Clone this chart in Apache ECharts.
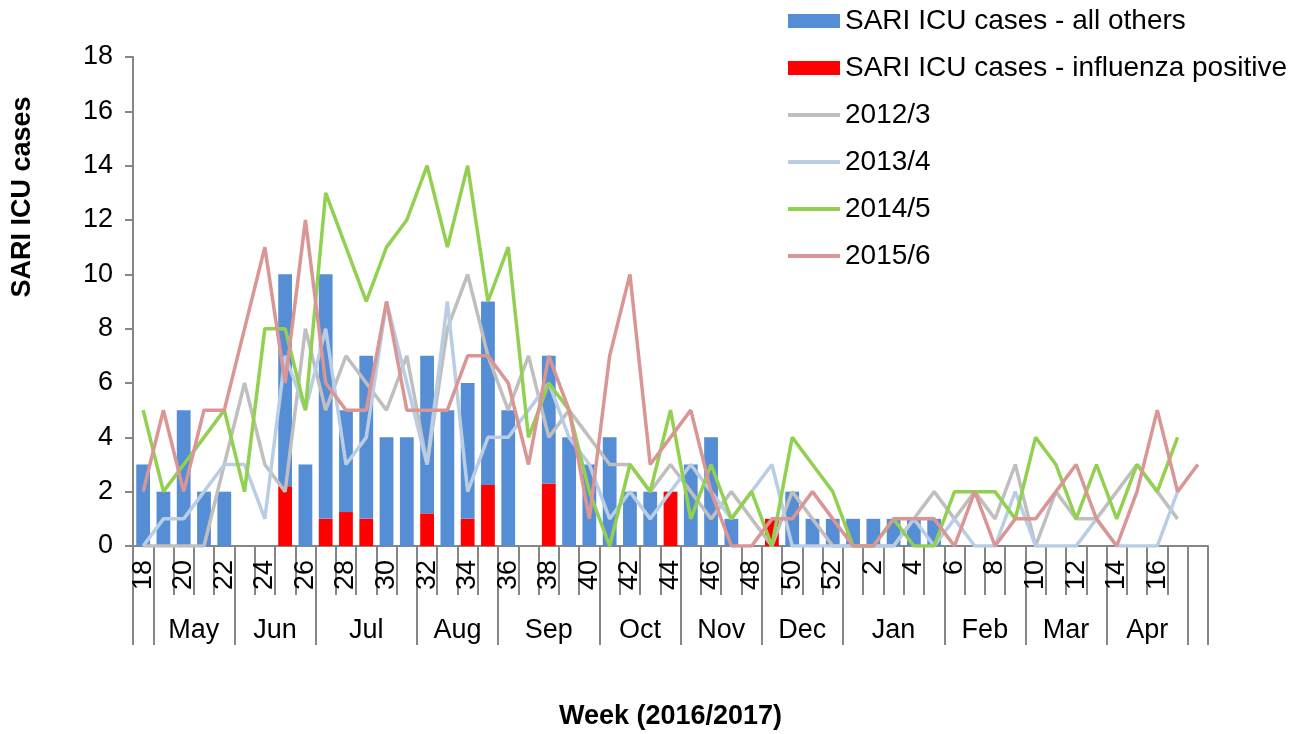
<!DOCTYPE html>
<html>
<head>
<meta charset="utf-8">
<title>SARI ICU cases</title>
<script src="https://cdn.jsdelivr.net/npm/echarts@6/dist/echarts.min.js"></script>
<style>
html, body { margin: 0; padding: 0; background: #fff; }
#chart { width: 1304px; height: 734px; }
</style>
</head>
<body>
<div id="chart"></div>
<script>
// week numbers, 2016 week 18 .. 2017 week 17, plus one empty slot at the end
const weeks = ['18','19','20','21','22','23','24','25','26','27','28','29','30','31','32','33','34','35',
  '36','37','38','39','40','41','42','43','44','45','46','47','48','49','50','51','52',
  '1','2','3','4','5','6','7','8','9','10','11','12','13','14','15','16','17',''];

const months = ['May','Jun','Jul','Aug','Sep','Oct','Nov','Dec','Jan','Feb','Mar','Apr'];
const monthWeekCounts = [4,4,5,4,5,4,4,4,5,4,4,4];
const firstMonthStart = 1;

const allOthers = [3,2,5,2,2,0,0,7.8,3,9,3.75,6,4,4,5.8,5,5,6.75,5,0,4.7,4,3,4,2,2,0,3,4,1,0,0,2,1,1,1,1,1,1,1,
  0,0,0,0,0,0,0,0,0,0,0,0,0];
const influenzaPositive = [0,0,0,0,0,0,0,2.2,0,1,1.25,1,0,0,1.2,0,1,2.25,0,0,2.3,0,0,0,0,0,2,0,0,0,0,1,
  0,0,0,0,0,0,0,0,0,0,0,0,0,0,0,0,0,0,0,0,0];

const s2012 = [0,0,0,0,3,6,3,2,8,5,7,6,5,7,3,8,10,7,5,7,4,5,4,3,3,2,3,2,1,2,1,0,2,1,0,0,0,0,1,2,1,2,1,3,0,2,1,1,2,3,2,1,null];
const s2013 = [0,1,1,2,3,3,1,7,5,8,3,4,9,6,3,9,2,4,4,5,6,4,3,1,2,1,2,3,2,1,2,3,0,0,0,0,0,0,1,0,1,0,0,2,0,0,0,1,0,0,0,2,null];
const s2014 = [5,2,3,4,5,2,8,8,5,13,11,9,11,12,14,11,14,9,11,4,6,5,2,0,3,2,5,1,3,1,2,0,4,3,2,0,0,1,0,0,2,2,2,1,4,3,1,3,1,3,2,4,null];
const s2015 = [2,5,2,5,5,8,11,6,12,6,5,5,9,5,5,5,7,7,6,3,7,5,1,7,10,3,4,5,2,0,0,1,1,2,1,0,0,1,1,1,0,2,0,1,1,2,3,1,0,2,5,2,3];

const font = "'Liberation Sans', Arial, sans-serif";
const axisGray = '#868686';

// month separators and label positions on the second (month) axis
let monthBounds = [0, firstMonthStart];
let monthCenters = [];
let pos = firstMonthStart;
monthWeekCounts.forEach((n) => {
  monthCenters.push(pos + n / 2);
  pos += n;
  monthBounds.push(pos);
});
monthBounds.push(weeks.length);

function lineSeries(name, data, color) {
  return {
    name: name,
    type: 'line',
    data: data,
    symbol: 'none',
    xAxisIndex: 0,
    lineStyle: { color: color, width: 3.5 },
    itemStyle: { color: color }
  };
}

function lineLegend(name) {
  return { name: name, itemStyle: { opacity: 0 }, lineStyle: { width: 4 } };
}

const chart = echarts.init(document.getElementById('chart'));
chart.setOption({
  animation: false,
  textStyle: { fontFamily: font },
  grid: { left: 133, right: 96, top: 57, bottom: 188, outerBoundsMode: 'none' },
  legend: {
    orient: 'vertical',
    left: 781,
    top: 2,
    itemWidth: 52,
    itemHeight: 14,
    itemGap: 19,
    textStyle: { fontSize: 28, color: '#000', fontFamily: font },
    data: [
      { name: 'SARI ICU cases - all others', icon: 'rect' },
      { name: 'SARI ICU cases - influenza positive', icon: 'rect' },
      lineLegend('2012/3'), lineLegend('2013/4'), lineLegend('2014/5'), lineLegend('2015/6')
    ]
  },
  graphic: [{
    type: 'text',
    x: 23,
    y: 197,
    rotation: Math.PI / 2,
    style: {
      text: 'SARI ICU cases',
      x: 0, y: 0,
      align: 'center',
      verticalAlign: 'middle',
      font: 'bold 27px ' + font,
      fill: '#000'
    }
  }],
  xAxis: [{
    type: 'category',
    data: weeks,
    boundaryGap: true,
    axisLine: { lineStyle: { color: axisGray, width: 2 } },
    axisTick: { show: true, interval: 0, length: 49, lineStyle: { color: axisGray, width: 2 } },
    axisLabel: { interval: 1, rotate: 90, margin: 14, fontSize: 27, color: '#000', fontFamily: font },
    splitLine: { show: false }
  }, {
    type: 'value',
    position: 'bottom',
    min: 0,
    max: weeks.length,
    axisLine: { show: false },
    axisTick: { show: true, customValues: monthBounds, length: 99, lineStyle: { color: axisGray, width: 2 } },
    axisLabel: {
      customValues: monthCenters,
      margin: 71,
      fontSize: 27,
      color: '#000',
      fontFamily: font,
      formatter: (v) => months[monthCenters.indexOf(v)] || ''
    },
    splitLine: { show: false },
    name: 'Week (2016/2017)',
    nameLocation: 'middle',
    nameGap: 157,
    nameTextStyle: { fontSize: 27, fontWeight: 'bold', color: '#000', fontFamily: font }
  }],
  yAxis: {
    type: 'value',
    min: 0,
    max: 18,
    interval: 2,
    axisLine: { show: true, lineStyle: { color: axisGray, width: 2 } },
    axisTick: { show: true, length: 8, lineStyle: { color: axisGray, width: 2 } },
    axisLabel: { margin: 20, fontSize: 27, color: '#000', fontFamily: font },
    splitLine: { show: false }
  },
  series: [
    {
      name: 'SARI ICU cases - influenza positive',
      type: 'bar',
      stack: 'cases',
      xAxisIndex: 0,
      barWidth: '68%',
      data: influenzaPositive,
      itemStyle: { color: '#FF0000' }
    },
    {
      name: 'SARI ICU cases - all others',
      type: 'bar',
      stack: 'cases',
      xAxisIndex: 0,
      barWidth: '68%',
      data: allOthers,
      itemStyle: { color: '#558ED5' }
    },
    lineSeries('2012/3', s2012, '#BFBFBF'),
    lineSeries('2013/4', s2013, '#B9CDE5'),
    lineSeries('2014/5', s2014, '#92D050'),
    lineSeries('2015/6', s2015, '#D99694')
  ]
});
</script>
</body>
</html>
